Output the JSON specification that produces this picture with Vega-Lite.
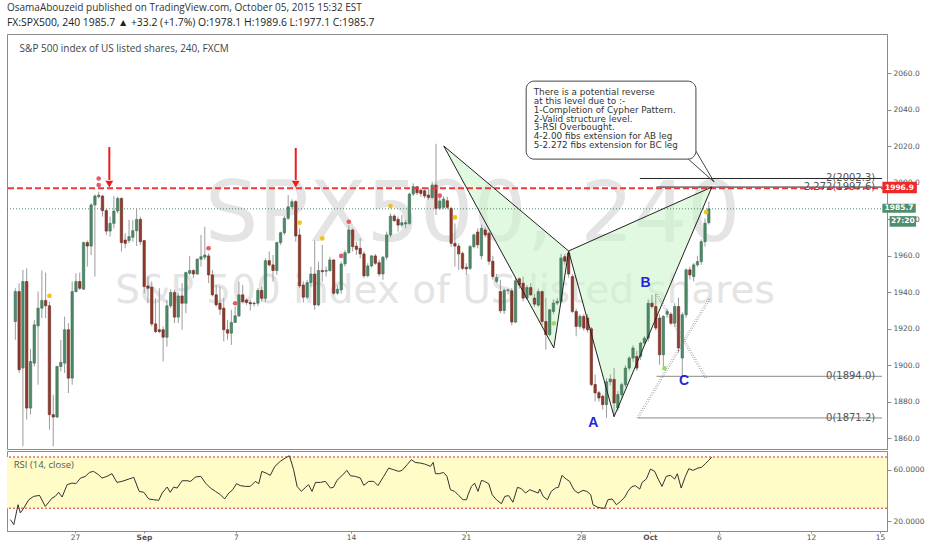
{
 "$schema": "https://vega.github.io/schema/vega-lite/v6.json",
 "background": "white",
 "padding": {"left": 5, "top": 3, "right": 4, "bottom": 2},
 "title": {"text": "OsamaAbouzeid published on TradingView.com, October 05, 2015 15:32 EST", "subtitle": "FX:SPX500, 240  1985.7 ▲ +33.2 (+1.7%)  O:1978.1  H:1989.6  L:1977.1  C:1985.7", "anchor": "start", "frame": "group", "font": "Open Sans", "fontSize": 10, "fontWeight": "normal", "color": "#333333", "subtitleFont": "Open Sans", "subtitleFontSize": 10.4, "subtitleColor": "#222222", "subtitlePadding": 5, "offset": 5},
 "datasets": {
  "candles": [
{"i":0,"o":1924.0,"h":1942.2,"l":1914.0,"c":1940.4},
{"i":1,"o":1940.4,"h":1945.0,"l":1895.8,"c":1897.6},
{"i":2,"o":1898.5,"h":1952.2,"l":1855.7,"c":1945.9},
{"i":3,"o":1945.9,"h":1953.1,"l":1870.3,"c":1876.6},
{"i":4,"o":1876.6,"h":1908.9,"l":1873.0,"c":1902.1},
{"i":5,"o":1901.2,"h":1924.9,"l":1899.4,"c":1922.2},
{"i":6,"o":1921.6,"h":1940.4,"l":1889.4,"c":1931.3},
{"i":7,"o":1931.3,"h":1951.9,"l":1925.8,"c":1935.5},
{"i":8,"o":1935.5,"h":1950.8,"l":1925.8,"c":1932.6},
{"i":9,"o":1932.6,"h":1934.9,"l":1864.8,"c":1873.0},
{"i":10,"o":1873.0,"h":1883.9,"l":1855.7,"c":1871.7},
{"i":11,"o":1871.7,"h":1899.8,"l":1871.2,"c":1899.4},
{"i":12,"o":1899.4,"h":1913.9,"l":1896.7,"c":1901.6},
{"i":13,"o":1901.2,"h":1926.7,"l":1895.8,"c":1919.5},
{"i":14,"o":1919.5,"h":1923.1,"l":1884.8,"c":1893.0},
{"i":15,"o":1893.0,"h":1945.9,"l":1889.4,"c":1940.4},
{"i":16,"o":1940.4,"h":1950.4,"l":1939.9,"c":1945.9},
{"i":17,"o":1945.9,"h":1950.8,"l":1941.3,"c":1942.2},
{"i":18,"o":1941.7,"h":1967.7,"l":1941.3,"c":1967.2},
{"i":19,"o":1967.2,"h":1968.3,"l":1954.1,"c":1965.3},
{"i":20,"o":1965.3,"h":1988.7,"l":1960.4,"c":1987.8},
{"i":21,"o":1987.8,"h":1993.6,"l":1948.6,"c":1992.7},
{"i":22,"o":1992.3,"h":1995.0,"l":1991.4,"c":1993.2},
{"i":23,"o":1992.7,"h":1993.2,"l":1981.4,"c":1984.7},
{"i":24,"o":1984.7,"h":1985.9,"l":1971.4,"c":1973.5},
{"i":25,"o":1973.5,"h":1981.4,"l":1970.5,"c":1977.7},
{"i":26,"o":1977.7,"h":1992.7,"l":1975.0,"c":1984.5},
{"i":27,"o":1984.5,"h":1992.3,"l":1983.2,"c":1991.4},
{"i":28,"o":1991.4,"h":1991.9,"l":1962.3,"c":1967.2},
{"i":29,"o":1968.6,"h":1972.3,"l":1964.1,"c":1966.8},
{"i":30,"o":1968.3,"h":1979.6,"l":1966.8,"c":1970.5},
{"i":31,"o":1970.1,"h":1979.6,"l":1967.7,"c":1973.7},
{"i":32,"o":1973.7,"h":1985.9,"l":1965.3,"c":1979.9},
{"i":33,"o":1979.9,"h":1981.4,"l":1965.9,"c":1967.7},
{"i":34,"o":1968.3,"h":1968.6,"l":1939.5,"c":1943.1},
{"i":35,"o":1943.5,"h":1948.6,"l":1934.0,"c":1942.2},
{"i":36,"o":1942.8,"h":1945.9,"l":1921.3,"c":1922.7},
{"i":37,"o":1922.7,"h":1936.7,"l":1917.6,"c":1918.5},
{"i":38,"o":1919.5,"h":1942.2,"l":1917.6,"c":1918.5},
{"i":39,"o":1919.5,"h":1921.3,"l":1902.1,"c":1915.4},
{"i":40,"o":1915.4,"h":1935.8,"l":1910.3,"c":1932.6},
{"i":41,"o":1932.6,"h":1941.7,"l":1931.3,"c":1939.9},
{"i":42,"o":1939.9,"h":1941.3,"l":1923.1,"c":1926.4},
{"i":43,"o":1926.4,"h":1939.5,"l":1923.1,"c":1938.0},
{"i":44,"o":1938.0,"h":1945.0,"l":1919.5,"c":1934.0},
{"i":45,"o":1934.0,"h":1951.3,"l":1928.5,"c":1950.8},
{"i":46,"o":1950.4,"h":1959.9,"l":1949.5,"c":1951.9},
{"i":47,"o":1951.9,"h":1952.6,"l":1947.7,"c":1950.0},
{"i":48,"o":1950.0,"h":1958.6,"l":1949.5,"c":1958.1},
{"i":49,"o":1958.1,"h":1971.4,"l":1954.1,"c":1959.5},
{"i":50,"o":1959.2,"h":1975.9,"l":1957.7,"c":1960.4},
{"i":51,"o":1959.9,"h":1961.3,"l":1945.0,"c":1949.5},
{"i":52,"o":1949.5,"h":1952.2,"l":1937.7,"c":1938.6},
{"i":53,"o":1938.6,"h":1944.0,"l":1932.2,"c":1933.1},
{"i":54,"o":1934.0,"h":1943.1,"l":1927.6,"c":1930.7},
{"i":55,"o":1931.3,"h":1936.7,"l":1913.1,"c":1919.5},
{"i":56,"o":1919.5,"h":1924.9,"l":1914.0,"c":1917.6},
{"i":57,"o":1917.6,"h":1930.4,"l":1911.2,"c":1923.5},
{"i":58,"o":1923.5,"h":1932.2,"l":1923.1,"c":1927.1},
{"i":59,"o":1927.1,"h":1945.9,"l":1926.4,"c":1938.6},
{"i":60,"o":1938.6,"h":1944.0,"l":1934.0,"c":1934.9},
{"i":61,"o":1935.8,"h":1936.7,"l":1933.1,"c":1934.4},
{"i":62,"o":1934.4,"h":1935.8,"l":1930.0,"c":1933.7},
{"i":63,"o":1934.0,"h":1934.9,"l":1932.2,"c":1933.8},
{"i":64,"o":1934.0,"h":1942.2,"l":1932.6,"c":1941.0},
{"i":65,"o":1941.0,"h":1943.1,"l":1934.9,"c":1936.7},
{"i":66,"o":1936.7,"h":1958.6,"l":1934.9,"c":1957.3},
{"i":67,"o":1957.3,"h":1962.3,"l":1954.1,"c":1955.0},
{"i":68,"o":1955.0,"h":1960.4,"l":1945.9,"c":1951.9},
{"i":69,"o":1951.9,"h":1967.7,"l":1949.5,"c":1967.2},
{"i":70,"o":1967.2,"h":1973.2,"l":1965.9,"c":1972.6},
{"i":71,"o":1972.6,"h":1981.7,"l":1971.4,"c":1980.5},
{"i":72,"o":1980.5,"h":1993.2,"l":1979.6,"c":1986.8},
{"i":73,"o":1986.8,"h":1990.9,"l":1985.9,"c":1989.6},
{"i":74,"o":1989.6,"h":1990.5,"l":1967.7,"c":1970.8},
{"i":75,"o":1971.4,"h":1975.0,"l":1942.2,"c":1943.5},
{"i":76,"o":1944.0,"h":1945.9,"l":1934.4,"c":1937.3},
{"i":77,"o":1937.3,"h":1946.8,"l":1936.2,"c":1945.3},
{"i":78,"o":1945.3,"h":1954.1,"l":1943.1,"c":1950.0},
{"i":79,"o":1950.0,"h":1968.3,"l":1930.4,"c":1933.1},
{"i":80,"o":1933.1,"h":1956.8,"l":1932.2,"c":1951.9},
{"i":81,"o":1951.9,"h":1965.9,"l":1945.9,"c":1951.3},
{"i":82,"o":1951.5,"h":1954.1,"l":1948.6,"c":1951.9},
{"i":83,"o":1951.9,"h":1959.5,"l":1951.3,"c":1957.7},
{"i":84,"o":1957.7,"h":1958.1,"l":1938.6,"c":1939.5},
{"i":85,"o":1939.5,"h":1944.0,"l":1938.6,"c":1941.7},
{"i":86,"o":1941.3,"h":1956.8,"l":1939.1,"c":1955.5},
{"i":87,"o":1955.5,"h":1963.2,"l":1954.1,"c":1961.7},
{"i":88,"o":1961.7,"h":1976.8,"l":1961.0,"c":1974.1},
{"i":89,"o":1974.1,"h":1975.0,"l":1962.3,"c":1965.0},
{"i":90,"o":1965.3,"h":1967.7,"l":1960.4,"c":1963.5},
{"i":91,"o":1964.1,"h":1969.5,"l":1958.6,"c":1961.0},
{"i":92,"o":1961.0,"h":1962.3,"l":1947.7,"c":1949.0},
{"i":93,"o":1949.0,"h":1955.9,"l":1948.2,"c":1954.4},
{"i":94,"o":1954.4,"h":1960.4,"l":1953.7,"c":1959.9},
{"i":95,"o":1959.9,"h":1961.0,"l":1955.0,"c":1955.9},
{"i":96,"o":1956.2,"h":1957.7,"l":1948.6,"c":1950.0},
{"i":97,"o":1950.0,"h":1959.9,"l":1946.8,"c":1959.2},
{"i":98,"o":1959.2,"h":1973.2,"l":1957.7,"c":1971.4},
{"i":99,"o":1971.4,"h":1983.2,"l":1970.1,"c":1981.7},
{"i":100,"o":1981.7,"h":1982.8,"l":1978.6,"c":1979.2},
{"i":101,"o":1979.9,"h":1981.4,"l":1973.2,"c":1976.8},
{"i":102,"o":1976.8,"h":1982.3,"l":1975.5,"c":1978.1},
{"i":103,"o":1977.4,"h":1979.6,"l":1975.0,"c":1978.1},
{"i":104,"o":1977.7,"h":1994.5,"l":1976.8,"c":1993.8},
{"i":105,"o":1993.8,"h":1999.6,"l":1992.7,"c":1997.8},
{"i":106,"o":1997.8,"h":1998.1,"l":1993.2,"c":1994.5},
{"i":107,"o":1995.9,"h":1996.9,"l":1992.3,"c":1994.1},
{"i":108,"o":1995.6,"h":1996.3,"l":1991.4,"c":1992.7},
{"i":109,"o":1993.2,"h":1997.4,"l":1990.5,"c":1991.9},
{"i":110,"o":1991.9,"h":2000.5,"l":1990.9,"c":1998.7},
{"i":111,"o":1998.7,"h":2021.3,"l":1982.3,"c":1985.9},
{"i":112,"o":1986.0,"h":1993.0,"l":1985.0,"c":1990.0},
{"i":113,"o":1986.5,"h":1992.5,"l":1985.5,"c":1991.0},
{"i":114,"o":1990.1,"h":1992.3,"l":1985.4,"c":1986.5},
{"i":115,"o":1985.9,"h":1986.8,"l":1965.0,"c":1966.8},
{"i":116,"o":1966.8,"h":1977.7,"l":1954.1,"c":1965.3},
{"i":117,"o":1965.3,"h":1966.8,"l":1952.2,"c":1961.0},
{"i":118,"o":1961.3,"h":1962.3,"l":1952.2,"c":1953.1},
{"i":119,"o":1953.7,"h":1955.9,"l":1949.5,"c":1952.8},
{"i":120,"o":1953.1,"h":1965.9,"l":1952.2,"c":1965.0},
{"i":121,"o":1965.0,"h":1972.3,"l":1964.1,"c":1971.4},
{"i":122,"o":1973.0,"h":1975.0,"l":1964.0,"c":1966.0},
{"i":123,"o":1960.0,"h":1977.0,"l":1958.0,"c":1975.0},
{"i":124,"o":1974.1,"h":1975.5,"l":1970.0,"c":1971.4},
{"i":125,"o":1972.3,"h":1973.0,"l":1955.0,"c":1957.0},
{"i":126,"o":1957.0,"h":1960.0,"l":1947.0,"c":1948.6},
{"i":127,"o":1946.0,"h":1950.0,"l":1945.0,"c":1948.0},
{"i":128,"o":1940.4,"h":1946.8,"l":1928.6,"c":1929.9},
{"i":129,"o":1930.0,"h":1942.0,"l":1928.0,"c":1941.0},
{"i":130,"o":1941.0,"h":1942.0,"l":1939.0,"c":1941.3},
{"i":131,"o":1940.8,"h":1942.3,"l":1921.9,"c":1923.7},
{"i":132,"o":1923.7,"h":1948.0,"l":1923.0,"c":1946.3},
{"i":133,"o":1947.4,"h":1948.0,"l":1942.0,"c":1944.0},
{"i":134,"o":1945.0,"h":1948.6,"l":1935.0,"c":1936.8},
{"i":135,"o":1936.8,"h":1944.0,"l":1936.0,"c":1942.6},
{"i":136,"o":1942.6,"h":1945.0,"l":1938.0,"c":1938.6},
{"i":137,"o":1936.8,"h":1939.0,"l":1932.0,"c":1933.5},
{"i":138,"o":1933.0,"h":1942.0,"l":1932.0,"c":1940.4},
{"i":139,"o":1940.4,"h":1941.0,"l":1922.0,"c":1924.0},
{"i":140,"o":1924.0,"h":1936.8,"l":1908.6,"c":1916.8},
{"i":141,"o":1916.8,"h":1931.0,"l":1916.0,"c":1930.4},
{"i":142,"o":1929.5,"h":1936.0,"l":1928.0,"c":1934.1},
{"i":143,"o":1934.1,"h":1937.0,"l":1933.0,"c":1935.0},
{"i":144,"o":1935.0,"h":1961.0,"l":1934.0,"c":1958.7},
{"i":145,"o":1959.5,"h":1961.0,"l":1955.0,"c":1957.0},
{"i":146,"o":1961.4,"h":1962.5,"l":1948.0,"c":1950.0},
{"i":147,"o":1948.6,"h":1950.0,"l":1928.6,"c":1929.5},
{"i":148,"o":1929.5,"h":1931.0,"l":1915.9,"c":1921.3},
{"i":149,"o":1921.3,"h":1928.0,"l":1920.0,"c":1926.8},
{"i":150,"o":1926.8,"h":1928.0,"l":1919.0,"c":1920.4},
{"i":151,"o":1925.9,"h":1928.0,"l":1918.0,"c":1919.5},
{"i":152,"o":1920.0,"h":1921.0,"l":1888.5,"c":1889.5},
{"i":153,"o":1889.5,"h":1895.0,"l":1880.3,"c":1884.9},
{"i":154,"o":1885.0,"h":1886.0,"l":1880.0,"c":1882.1},
{"i":155,"o":1883.1,"h":1884.0,"l":1875.8,"c":1878.5},
{"i":156,"o":1878.5,"h":1893.0,"l":1871.2,"c":1891.0},
{"i":157,"o":1891.0,"h":1895.0,"l":1889.0,"c":1892.5},
{"i":158,"o":1892.3,"h":1898.5,"l":1871.8,"c":1879.4},
{"i":159,"o":1876.7,"h":1886.0,"l":1875.0,"c":1884.0},
{"i":160,"o":1884.0,"h":1890.5,"l":1882.0,"c":1889.4},
{"i":161,"o":1889.4,"h":1900.0,"l":1888.0,"c":1898.5},
{"i":162,"o":1898.5,"h":1905.0,"l":1897.0,"c":1904.0},
{"i":163,"o":1904.0,"h":1911.0,"l":1902.0,"c":1909.5},
{"i":164,"o":1904.9,"h":1908.0,"l":1897.0,"c":1898.5},
{"i":165,"o":1904.9,"h":1913.0,"l":1903.0,"c":1912.2},
{"i":166,"o":1912.2,"h":1916.0,"l":1911.0,"c":1914.9},
{"i":167,"o":1914.9,"h":1936.0,"l":1913.0,"c":1934.0},
{"i":168,"o":1934.0,"h":1938.6,"l":1931.0,"c":1932.2},
{"i":169,"o":1932.2,"h":1939.0,"l":1919.0,"c":1920.4},
{"i":170,"o":1925.9,"h":1928.0,"l":1900.4,"c":1905.8},
{"i":171,"o":1905.8,"h":1927.5,"l":1899.5,"c":1926.8},
{"i":172,"o":1928.0,"h":1931.0,"l":1926.0,"c":1929.5},
{"i":173,"o":1928.0,"h":1929.0,"l":1922.0,"c":1923.1},
{"i":174,"o":1923.1,"h":1934.0,"l":1921.0,"c":1932.2},
{"i":175,"o":1932.2,"h":1937.0,"l":1907.0,"c":1909.5},
{"i":176,"o":1904.0,"h":1929.0,"l":1894.0,"c":1927.7},
{"i":177,"o":1927.7,"h":1953.0,"l":1926.0,"c":1952.3},
{"i":178,"o":1952.3,"h":1954.0,"l":1947.0,"c":1949.5},
{"i":179,"o":1948.6,"h":1956.0,"l":1946.0,"c":1955.0},
{"i":180,"o":1955.0,"h":1960.0,"l":1954.0,"c":1956.8},
{"i":181,"o":1956.8,"h":1969.0,"l":1955.0,"c":1967.7},
{"i":182,"o":1967.7,"h":1980.5,"l":1965.0,"c":1977.8},
{"i":183,"o":1978.1,"h":1989.6,"l":1977.1,"c":1985.7}
  ],
  "rsi": [
{"i":0,"r":21.1},{"i":0.9,"r":17.2},{"i":2.0,"r":32.7},{"i":2.6,"r":26.3},{"i":3.5,"r":30.1},{"i":4.8,"r":36.6},{"i":6.1,"r":39.2},{"i":7.6,"r":40.0},{"i":9.1,"r":31.4},{"i":10.9,"r":37.9},{"i":11.7,"r":39.2},{"i":12.6,"r":42.4},{"i":13.5,"r":38.7},{"i":14.8,"r":48.3},{"i":16.1,"r":49.6},{"i":17.1,"r":49.1},{"i":18.3,"r":53.5},{"i":19.6,"r":54.8},{"i":20.6,"r":57.9},{"i":21.7,"r":58.7},{"i":23.0,"r":56.1},{"i":23.9,"r":53.5},{"i":25.2,"r":54.8},{"i":26.5,"r":56.9},{"i":27.8,"r":50.1},{"i":29.1,"r":50.9},{"i":30.9,"r":52.7},{"i":32.2,"r":54.0},{"i":33.6,"r":43.1},{"i":34.8,"r":42.4},{"i":36.1,"r":37.2},{"i":37.4,"r":36.6},{"i":38.7,"r":36.1},{"i":39.6,"r":41.8},{"i":40.9,"r":46.5},{"i":41.7,"r":42.4},{"i":42.6,"r":46.5},{"i":43.5,"r":45.7},{"i":44.8,"r":51.4},{"i":46.1,"r":51.4},{"i":47.0,"r":50.9},{"i":48.3,"r":54.3},{"i":49.7,"r":54.8},{"i":50.9,"r":49.6},{"i":52.2,"r":45.7},{"i":53.5,"r":43.1},{"i":54.8,"r":40.5},{"i":55.9,"r":37.2},{"i":57.0,"r":41.8},{"i":58.0,"r":44.4},{"i":59.0,"r":49.1},{"i":60.0,"r":47.6},{"i":61.3,"r":47.0},{"i":62.6,"r":47.0},{"i":63.9,"r":50.9},{"i":64.8,"r":49.1},{"i":65.6,"r":58.7},{"i":66.7,"r":57.4},{"i":67.8,"r":55.6},{"i":69.0,"r":62.6},{"i":70.4,"r":66.5},{"i":71.7,"r":69.1},{"i":72.8,"r":70.9},{"i":73.9,"r":60.0},{"i":74.8,"r":47.0},{"i":75.9,"r":43.1},{"i":77.1,"r":46.5},{"i":77.8,"r":48.3},{"i":78.7,"r":43.1},{"i":79.6,"r":50.1},{"i":80.9,"r":50.1},{"i":82.2,"r":50.9},{"i":83.5,"r":45.7},{"i":84.3,"r":46.3},{"i":85.2,"r":51.7},{"i":86.5,"r":55.3},{"i":87.8,"r":59.5},{"i":88.7,"r":55.3},{"i":90.0,"r":54.8},{"i":91.3,"r":53.5},{"i":92.2,"r":47.8},{"i":93.5,"r":50.9},{"i":94.8,"r":50.9},{"i":95.9,"r":47.6},{"i":97.4,"r":54.8},{"i":98.7,"r":61.3},{"i":100.0,"r":60.0},{"i":101.3,"r":58.7},{"i":102.2,"r":59.5},{"i":103.5,"r":63.9},{"i":104.6,"r":67.8},{"i":105.6,"r":65.7},{"i":106.9,"r":65.2},{"i":108.1,"r":64.4},{"i":109.6,"r":62.6},{"i":110.3,"r":65.7},{"i":110.9,"r":56.9},{"i":111.9,"r":56.9},{"i":113.0,"r":57.9},{"i":113.9,"r":54.8},{"i":114.8,"r":44.4},{"i":115.9,"r":43.1},{"i":117.0,"r":39.8},{"i":118.1,"r":36.6},{"i":119.0,"r":36.6},{"i":119.4,"r":40.5},{"i":120.3,"r":47.0},{"i":121.1,"r":49.6},{"i":122.0,"r":43.1},{"i":122.9,"r":51.7},{"i":123.7,"r":50.9},{"i":124.8,"r":49.1},{"i":125.7,"r":40.5},{"i":126.8,"r":36.6},{"i":128.1,"r":33.5},{"i":129.0,"r":39.2},{"i":130.0,"r":39.8},{"i":131.1,"r":34.6},{"i":132.3,"r":46.3},{"i":133.3,"r":45.2},{"i":134.4,"r":41.8},{"i":135.5,"r":44.4},{"i":136.6,"r":43.1},{"i":137.7,"r":41.8},{"i":138.1,"r":44.9},{"i":139.0,"r":39.2},{"i":140.1,"r":36.6},{"i":141.1,"r":43.1},{"i":142.2,"r":45.7},{"i":143.0,"r":46.3},{"i":143.9,"r":55.6},{"i":145.0,"r":52.7},{"i":145.9,"r":50.9},{"i":147.0,"r":44.4},{"i":148.1,"r":41.8},{"i":149.4,"r":43.9},{"i":150.4,"r":43.1},{"i":151.4,"r":40.5},{"i":152.0,"r":32.7},{"i":153.1,"r":30.9},{"i":154.2,"r":30.1},{"i":155.0,"r":29.9},{"i":155.9,"r":36.6},{"i":157.0,"r":37.2},{"i":158.1,"r":32.7},{"i":159.2,"r":35.3},{"i":160.3,"r":38.7},{"i":161.1,"r":43.1},{"i":162.0,"r":46.5},{"i":163.0,"r":47.6},{"i":164.2,"r":44.9},{"i":164.8,"r":50.1},{"i":165.9,"r":52.7},{"i":167.0,"r":60.5},{"i":168.1,"r":58.7},{"i":169.0,"r":52.7},{"i":170.0,"r":47.0},{"i":171.1,"r":54.8},{"i":172.2,"r":55.6},{"i":173.3,"r":52.7},{"i":174.0,"r":56.9},{"i":175.0,"r":45.7},{"i":176.1,"r":54.8},{"i":177.0,"r":60.8},{"i":178.1,"r":59.5},{"i":179.4,"r":61.3},{"i":180.3,"r":61.8},{"i":181.3,"r":64.7},{"i":182.2,"r":67.3},{"i":183.0,"r":69.9}
  ],
  "dots": [
{"i":22,"p":2002.3,"sig":"bear"},{"i":22,"p":1998.7,"sig":"bear"},{"i":51,"p":1964.1,"sig":"bear"},{"i":58,"p":1934.0,"sig":"bear"},{"i":86,"p":1959.9,"sig":"bear"},{"i":88,"p":1978.6,"sig":"bear"},{"i":112,"p":1992.9,"sig":"bear"},
{"i":9,"p":1938.0,"sig":"warn"},{"i":75,"p":1978.1,"sig":"warn"},{"i":81,"p":1969.5,"sig":"warn"},{"i":99,"p":1987.2,"sig":"warn"},{"i":116,"p":1981.0,"sig":"warn"},{"i":182.3,"p":1983.9,"sig":"warn"},
{"i":142.1,"p":1923.0,"sig":"bull"},{"i":171.3,"p":1898.4,"sig":"bull"}
  ],
  "poly": [
{"poly":1,"k":0,"i":113.05,"p":2020.1},{"poly":1,"k":1,"i":142.1,"p":1909.5},{"poly":1,"k":2,"i":146.0,"p":1962.6},{"poly":1,"k":3,"i":113.05,"p":2020.1},
{"poly":2,"k":0,"i":146.0,"p":1962.6},{"poly":2,"k":1,"i":158.0,"p":1871.9},{"poly":2,"k":2,"i":183.8,"p":1997.6},{"poly":2,"k":3,"i":146.0,"p":1962.6}
  ]
 },
 "spacing": 0,
 "vconcat": [
  {
   "width": 880,
   "height": 415,
   "layer": [
    {"data": {"values": [{}]}, "mark": {"type": "text", "text": "SPX500, 240", "font": "DejaVu Sans", "fontSize": 84, "color": "#e4e4e4", "align": "center", "baseline": "middle"}, "encoding": {"x": {"datum": 120.7}, "y": {"datum": 1981.7}}},
    {"data": {"values": [{}]}, "mark": {"type": "text", "text": "S&P 500 index of US listed shares", "font": "DejaVu Sans", "fontSize": 39, "color": "#e4e4e4", "align": "center", "baseline": "middle"}, "encoding": {"x": {"datum": 113.4}, "y": {"datum": 1940.7}}},
    {"data": {"name": "poly"}, "mark": {"type": "line", "fill": "#cdf3cd", "fillOpacity": 0.6, "strokeOpacity": 0}, "encoding": {"x": {"field": "i", "type": "quantitative"}, "y": {"field": "p", "type": "quantitative"}, "order": {"field": "k"}, "detail": {"field": "poly"}}},
    {"data": {"values": [{"a": 164.8, "b": 228.7, "p": 2002.3}, {"a": 169.2, "b": 228.7, "p": 1997.6}]}, "mark": {"type": "rule", "color": "#222222", "strokeWidth": 1}, "encoding": {"x": {"field": "a", "type": "quantitative"}, "x2": {"field": "b"}, "y": {"field": "p", "type": "quantitative"}}},
    {"data": {"values": [{"a": 169.2, "b": 228.7, "p": 1894.0}, {"a": 164.3, "b": 228.7, "p": 1871.2}]}, "mark": {"type": "rule", "color": "#8a8a8a", "strokeWidth": 1}, "encoding": {"x": {"field": "a", "type": "quantitative"}, "x2": {"field": "b"}, "y": {"field": "p", "type": "quantitative"}}},
    {"data": {"values": [{}]}, "mark": {"type": "rule", "color": "#4c8a69", "strokeWidth": 1, "strokeDash": [1, 2]}, "encoding": {"y": {"datum": 1985.7}}},
    {"data": {"name": "candles"}, "mark": {"type": "rule", "color": "#9c9c9c", "strokeWidth": 1}, "encoding": {"x": {"field": "i", "type": "quantitative", "scale": {"domain": [-0.88, 228.7], "nice": false, "zero": false}, "axis": null}, "y": {"field": "l", "type": "quantitative", "scale": {"domain": [1854.2, 2081.4], "nice": false, "zero": false}, "axis": {"orient": "right", "values": [1860, 1880, 1900, 1920, 1940, 1960, 1980, 2000, 2020, 2040, 2060], "format": ".1f", "tickSize": 4, "labelPadding": 2, "labelFlush": false}}, "y2": {"field": "h"}}},
    {"data": {"name": "candles"}, "mark": {"type": "bar", "width": 2.4, "strokeWidth": 0.6}, "encoding": {"x": {"field": "i", "type": "quantitative"}, "y": {"field": "o", "type": "quantitative"}, "y2": {"field": "c"}, "color": {"condition": {"test": "datum.c >= datum.o", "value": "#4c8a69"}, "value": "#8e3a2c"}, "stroke": {"condition": {"test": "datum.c >= datum.o", "value": "#3c6f54"}, "value": "#6e2a20"}}},
    {"data": {"values": [{}]}, "mark": {"type": "rule", "color": "#f03a3a", "strokeWidth": 2, "strokeDash": [6, 3]}, "encoding": {"y": {"datum": 1996.9}}},
    {"data": {"name": "poly"}, "mark": {"type": "line", "color": "#222222", "strokeWidth": 1}, "encoding": {"x": {"field": "i", "type": "quantitative"}, "y": {"field": "p", "type": "quantitative"}, "order": {"field": "k"}, "detail": {"field": "poly"}}},
    {"data": {"values": [{"a": 164.0, "pa": 1871.3, "b": 183.05, "pb": 1937.0}, {"a": 164.5, "pa": 1871.3, "b": 183.55, "pb": 1937.0}, {"a": 169.0, "pa": 1939.0, "b": 182.0, "pb": 1893.0}, {"a": 169.5, "pa": 1939.0, "b": 182.5, "pb": 1893.0}]}, "mark": {"type": "rule", "color": "#777777", "strokeWidth": 0.8, "strokeDash": [1, 1.6]}, "encoding": {"x": {"field": "a", "type": "quantitative"}, "x2": {"field": "b"}, "y": {"field": "pa", "type": "quantitative"}, "y2": {"field": "pb"}}},
    {"data": {"name": "dots"}, "mark": {"type": "point", "filled": true, "size": 22, "opacity": 1}, "encoding": {"x": {"field": "i", "type": "quantitative"}, "y": {"field": "p", "type": "quantitative"}, "color": {"field": "sig", "type": "nominal", "scale": {"domain": ["bear", "warn", "bull"], "range": ["#e25c6b", "#f2c21b", "#9bd86a"]}, "legend": null}}},
    {"data": {"values": [{"i": 24.8, "t": 2019.5, "b": 2001.5}, {"i": 74.0, "t": 2019.0, "b": 2001.5}]}, "mark": {"type": "rule", "color": "#ee1c1c", "strokeWidth": 2}, "encoding": {"x": {"field": "i", "type": "quantitative"}, "y": {"field": "t", "type": "quantitative"}, "y2": {"field": "b"}}},
    {"data": {"values": [{"i": 24.8, "p": 1999.2}, {"i": 74.0, "p": 1999.2}]}, "mark": {"type": "point", "shape": "triangle-down", "filled": true, "size": 60, "color": "#ee1c1c", "opacity": 1}, "encoding": {"x": {"field": "i", "type": "quantitative"}, "y": {"field": "p", "type": "quantitative"}}},
    {"data": {"values": [{"p": 2002.3, "t": "2(2002.3)"}, {"p": 1997.6, "t": "2.272(1997.6)"}, {"p": 1894.0, "t": "0(1894.0)"}, {"p": 1871.2, "t": "0(1871.2)"}]}, "mark": {"type": "text", "font": "DejaVu Sans", "fontSize": 10, "color": "#555555", "align": "right", "baseline": "middle"}, "encoding": {"x": {"datum": 226.9}, "y": {"field": "p", "type": "quantitative"}, "text": {"field": "t"}}},
    {"data": {"values": [{"i": 152.5, "p": 1868.4, "t": "A"}, {"i": 166.3, "p": 1945.1, "t": "B"}, {"i": 176.5, "p": 1891.4, "t": "C"}]}, "mark": {"type": "text", "font": "Liberation Sans", "fontSize": 14, "fontWeight": "bold", "color": "#2424d8", "align": "center", "baseline": "middle"}, "encoding": {"x": {"field": "i", "type": "quantitative"}, "y": {"field": "p", "type": "quantitative"}, "text": {"field": "t"}}},
    {"data": {"values": [{"a": 177.6, "pa": 2012.9, "b": 184.4, "pb": 2000.4}, {"a": 179.6, "pa": 2017.3, "b": 184.4, "pb": 2000.4}]}, "mark": {"type": "rule", "color": "#444444", "strokeWidth": 1}, "encoding": {"x": {"field": "a", "type": "quantitative"}, "x2": {"field": "b"}, "y": {"field": "pa", "type": "quantitative"}, "y2": {"field": "pb"}}},
    {"data": {"values": [{}]}, "mark": {"type": "rect", "fill": "white", "stroke": "#444444", "strokeWidth": 1, "cornerRadius": 8}, "encoding": {"x": {"datum": 134.8}, "x2": {"datum": 179.6}, "y": {"datum": 2055.6}, "y2": {"datum": 2012.9}}},
    {"data": {"values": [{}]}, "mark": {"type": "text", "text": ["There is a potential reverse", "at this level due to  :-", "1-Completion of Cypher Pattern.", "2-Valid structure level.", "3-RSI Overbought.", "4-2.00 fibs extension for AB leg", "5-2.272  fibs extension for BC leg"], "font": "DejaVu Sans", "fontSize": 8.8, "lineHeight": 8.7, "color": "#333333", "align": "left", "baseline": "top"}, "encoding": {"x": {"datum": 136.8}, "y": {"datum": 2051.6}}},
    {"data": {"values": [{}]}, "mark": {"type": "text", "text": "S&P 500 index of US listed shares, 240, FXCM", "font": "Open Sans", "fontSize": 10, "color": "#444444", "align": "left", "baseline": "middle"}, "encoding": {"x": {"datum": 1.13}, "y": {"datum": 2073.0}}},
    {"data": {"values": [{"a": 228.8, "b": 237.9, "t": 2000.5, "u": 1994.2}]}, "mark": {"type": "rect", "color": "#f02828"}, "encoding": {"x": {"field": "a", "type": "quantitative"}, "x2": {"field": "b"}, "y": {"field": "t", "type": "quantitative"}, "y2": {"field": "u"}}},
    {"data": {"values": [{"a": 228.8, "b": 237.6, "t": 1988.5, "u": 1983.5}, {"a": 230.7, "b": 237.7, "t": 1981.7, "u": 1975.9}]}, "mark": {"type": "rect", "color": "#4f8d6c"}, "encoding": {"x": {"field": "a", "type": "quantitative"}, "x2": {"field": "b"}, "y": {"field": "t", "type": "quantitative"}, "y2": {"field": "u"}}},
    {"data": {"values": [{"i": 233.3, "p": 1997.35, "t": "1996.9"}, {"i": 233.2, "p": 1986.0, "t": "1985.7"}, {"i": 234.2, "p": 1978.8, "t": "27:20"}]}, "mark": {"type": "text", "font": "DejaVu Sans", "fontSize": 7.5, "fontWeight": "bold", "color": "white", "align": "center", "baseline": "middle"}, "encoding": {"x": {"field": "i", "type": "quantitative"}, "y": {"field": "p", "type": "quantitative"}, "text": {"field": "t"}}}
   ]
  },
  {
   "width": 880,
   "height": 80,
   "layer": [
    {"data": {"values": [{}]}, "mark": {"type": "rect", "color": "#fffcc8"}, "encoding": {"y": {"datum": 70}, "y2": {"datum": 30}}},
    {"data": {"values": [{"r": 70}, {"r": 30}]}, "mark": {"type": "rule", "color": "#e8705f", "strokeWidth": 1.5, "strokeDash": [2, 2]}, "encoding": {"y": {"field": "r", "type": "quantitative"}}},
    {"data": {"name": "rsi"}, "mark": {"type": "line", "color": "#333333", "strokeWidth": 1}, "encoding": {"x": {"field": "i", "type": "quantitative", "scale": {"domain": [-0.88, 228.7], "nice": false, "zero": false}, "axis": {"values": [16.86, 34.86, 58.86, 88.86, 118.86, 148.86, 166.86, 184.86, 208.86, 226.86], "labelExpr": "datum.value < 25 ? '27' : datum.value < 45 ? 'Sep' : datum.value < 70 ? '7' : datum.value < 100 ? '14' : datum.value < 130 ? '21' : datum.value < 160 ? '28' : datum.value < 175 ? 'Oct' : datum.value < 195 ? '6' : datum.value < 215 ? '12' : '15'", "labelFontWeight": {"condition": {"test": "(datum.value > 30 && datum.value < 40) || (datum.value > 160 && datum.value < 170)", "value": "bold"}, "value": "normal"}, "tickSize": 2, "labelPadding": 0, "labelFlush": false}}, "y": {"field": "r", "type": "quantitative", "scale": {"domain": [12.2, 74.6], "nice": false, "zero": false}, "axis": {"orient": "right", "values": [20, 40, 60], "format": ".4f", "tickSize": 4, "labelPadding": 2, "labelFlush": false}}}},
    {"data": {"values": [{}]}, "mark": {"type": "text", "text": "RSI (14, close)", "font": "Open Sans", "fontSize": 9.5, "color": "#555555", "align": "left", "baseline": "middle"}, "encoding": {"x": {"datum": 0.87}, "y": {"datum": 63.4}}}
   ]
  }
 ],
 "config": {
  "view": {"stroke": "#8c8c8c", "strokeWidth": 1},
  "axis": {"labelFont": "DejaVu Sans", "labelFontSize": 7.5, "labelColor": "#555555", "domainColor": "#8c8c8c", "tickColor": "#8c8c8c", "grid": false, "title": null}
 }
}
